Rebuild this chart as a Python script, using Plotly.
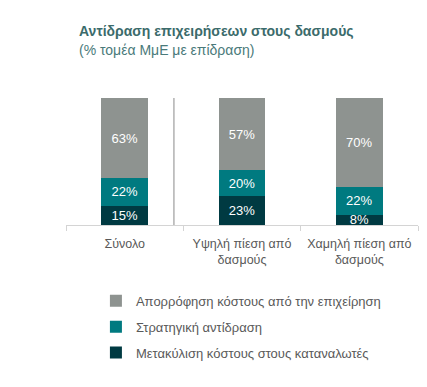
import plotly.graph_objects as go

categories = ["Σύνολο", "Υψηλή πίεση από<br>δασμούς", "Χαμηλή πίεση από<br>δασμούς"]
series_names = [
    "Μετακύλιση κόστους στους καταναλωτές",
    "Στρατηγική αντίδραση",
    "Απορρόφηση κόστους από την επιχείρηση",
]
pass_through = [15, 23, 8]
strategic = [22, 20, 22]
absorption = [63, 57, 70]
series_values = [pass_through, strategic, absorption]
colors = ["#003a42", "#007a80", "#8e9390"]
legend_ranks = [3, 2, 1]

title = "Αντίδραση επιχειρήσεων στους δασμούς"
subtitle = "(% τομέα ΜμΕ με επίδραση)"

FONT = "Liberation Sans, Arial, sans-serif"

fig = go.Figure()
for i, (name, vals, col, rank) in enumerate(zip(series_names, series_values, colors, legend_ranks)):
    fig.add_trace(go.Bar(
        x=categories, y=vals, name=name,
        marker=dict(color=col, line=dict(width=0)),
        text=[f"{v}%" for v in vals],
        textposition="inside", insidetextanchor="middle",
        textangle=0, constraintext="none",
        textfont=dict(color="white", size=13, family=FONT),
        legendgroup=f"g{i}", legendrank=rank,
        cliponaxis=False,
    ))

fig.update_layout(
    barmode="stack",
    bargap=0.6,
    width=427, height=387,
    margin=dict(l=58, r=17, t=90, b=170),
    paper_bgcolor="white", plot_bgcolor="white",
    font=dict(family=FONT, color="#595959", size=12),
    showlegend=True,
    legend=dict(
        traceorder="grouped",
        tracegroupgap=6,
        x=0.085, xanchor="left",
        y=-0.479, yanchor="top",
        font=dict(size=13, color="#595959", family=FONT),
        bgcolor="rgba(0,0,0,0)",
    ),
    xaxis=dict(
        showline=True, linecolor="#d4d4d4", linewidth=1,
        ticks="outside", tickson="boundaries", ticklen=5, tickcolor="#d4d4d4",
        tickfont=dict(size=12.5, color="#595959"),
        ticklabelstandoff=7,
        showgrid=False,
    ),
    yaxis=dict(range=[0, 100], visible=False, showgrid=False),
    annotations=[
        dict(text=f"<b>{title}</b>", xref="paper", yref="paper", x=0.031, y=1.528,
             xanchor="left", yanchor="middle", showarrow=False,
             font=dict(size=14, color="#3b6b6b", family=FONT)),
        dict(text=subtitle, xref="paper", yref="paper", x=0.031, y=1.38,
             xanchor="left", yanchor="middle", showarrow=False,
             font=dict(size=14, color="#4a7a7a", family=FONT)),
    ],
    shapes=[
        dict(type="line", xref="x", yref="y", x0=0.42, x1=0.42, y0=-29, y1=104,
             line=dict(color="#8a8a8a", width=1)),
    ],
)

fig.write_html("out.html")
